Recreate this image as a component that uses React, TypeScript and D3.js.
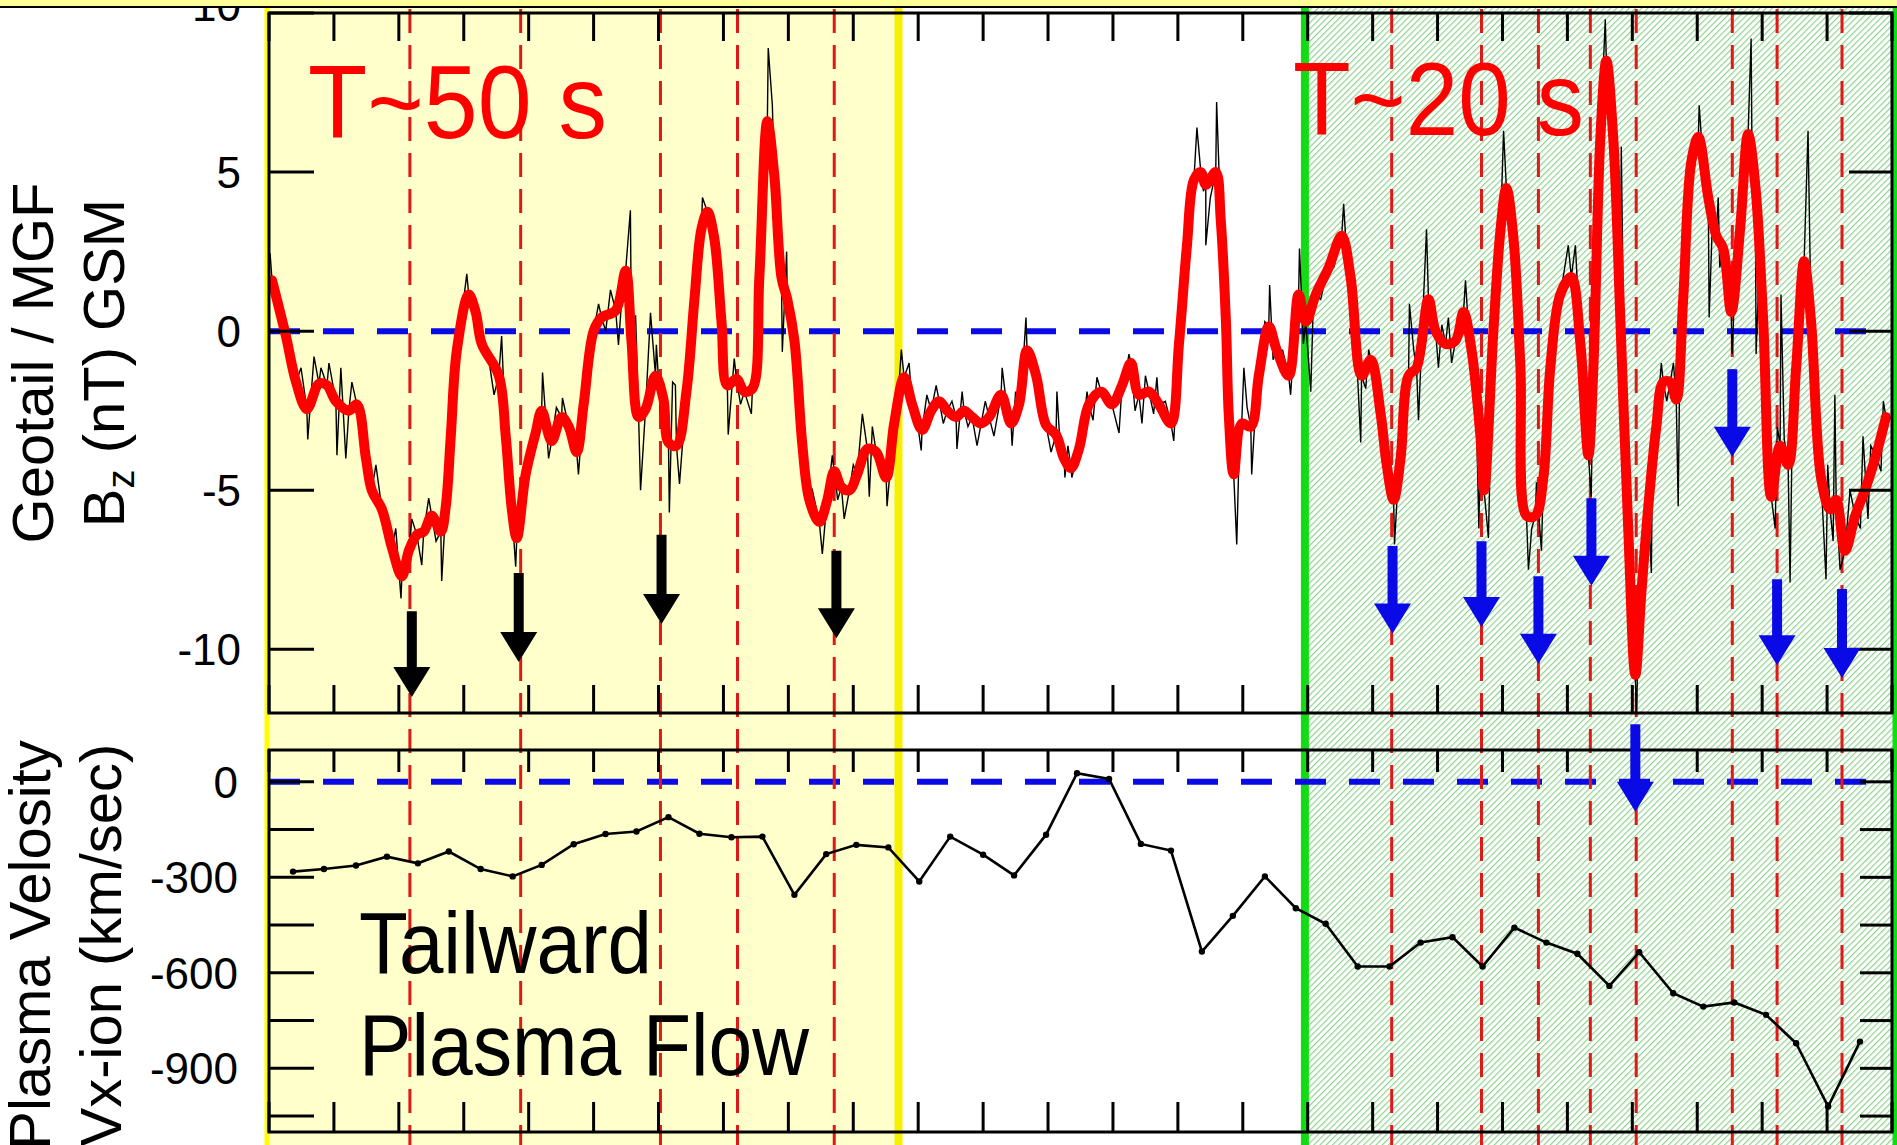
import { useEffect, useRef } from 'react';
import * as d3 from 'd3';

// Time along the axis, seconds from the left edge (ticks every 30 s)
const timeTicks = d3.range(0, 751, 30);

// Geotail Bz, smoothed (red) trace: [s, nT]
const bzSmooth: [number, number][] = [
  [1.4, 1.6], [7.8, -0.15], [12.5, -1.6], [17.5, -2.45], [23.1, -1.65], [26.8, -1.7], [30.9, -2.2], [36.9, -2.5],
  [40.6, -2.3], [44.8, -4.0], [47.5, -5.0], [52.2, -5.6], [56.8, -6.8], [61.4, -7.7], [64.6, -6.9], [68.3, -6.4],
  [71.5, -6.3], [75.2, -5.8], [79.4, -6.3], [81.7, -5.5], [84.0, -3.3], [86.8, -0.6], [92.3, 1.15], [95.5, 0.6],
  [98.3, -0.4], [106.2, -1.4], [109.4, -3.3], [112.2, -5.6], [114.5, -6.5], [118.6, -4.5], [123.2, -3.2], [126.0, -2.5],
  [130.6, -3.45], [135.2, -2.7], [138.5, -3.0], [142.2, -3.8], [145.4, -2.3], [150.0, 0.0], [153.7, 0.43], [160.2, 0.65],
  [164.8, 1.9], [167.5, -0.3], [170.8, -2.7], [174.0, -2.45], [178.6, -1.4], [182.3, -2.15], [184.6, -3.5], [188.3, -3.6],
  [192.9, -1.9], [196.6, 1.0], [199.8, 3.2], [202.6, 3.75], [205.8, 2.9], [209.1, 0.3], [211.8, -1.7], [216.0, -1.5],
  [219.7, -1.9], [223.4, -1.8], [226.6, 1.7], [230.3, 6.6], [233.5, 4.9], [236.8, 1.7], [239.5, 1.0], [242.8, -0.3],
  [246.5, -3.6], [249.7, -5.3], [254.3, -6.0], [258.0, -5.3], [261.2, -4.4], [264.5, -4.9], [268.2, -5.0], [271.8, -4.5],
  [276.5, -3.7], [280.6, -3.8], [285.2, -4.6], [288.9, -2.9], [293.5, -1.45], [297.2, -2.3], [301.8, -3.1], [306.0, -2.5],
  [309.7, -2.2], [313.4, -2.5], [317.5, -2.7], [321.2, -2.5], [324.9, -2.7], [329.1, -2.9], [332.8, -2.7], [338.3, -2.0],
  [342.9, -2.9], [346.6, -2.3], [350.3, -0.6], [354.5, -1.4], [359.1, -2.95], [363.7, -3.25], [367.4, -4.0], [370.6, -4.3],
  [374.3, -3.7], [378.9, -2.3], [384.5, -1.9], [389.5, -2.3], [394.2, -1.7], [398.3, -1.0], [402.0, -2.0], [406.6, -1.9],
  [411.2, -2.3], [416.8, -2.9], [420.5, -0.4], [424.2, 2.7], [427.4, 4.75], [430.6, 5.0], [432.9, 4.6], [437.5, 5.0],
  [439.8, 3.5], [442.2, 0.3], [443.5, -2.6], [445.8, -4.5], [449.5, -2.9], [453.7, -3.0], [457.4, -1.4], [462.0, 0.15],
  [465.7, -0.6], [471.2, -1.4], [475.8, 1.15], [479.1, 0.3], [483.7, 1.15], [489.7, 2.0], [495.7, 3.0], [499.8, 1.7],
  [504.9, -1.4], [509.1, -0.9], [513.7, -2.6], [516.5, -4.2], [519.7, -5.3], [522.9, -4.0], [526.6, -1.4], [530.3, -1.15],
  [535.8, 1.0], [539.1, 0.0], [543.7, -0.4], [548.3, -0.3], [552.0, 0.6], [555.7, -0.6], [559.8, -3.3], [561.5, -5.0],
  [565.8, 0.0], [569.1, 3.2], [571.8, 4.5], [575.1, 2.9], [578.3, -1.15], [581.1, -5.8], [585.2, -5.8], [588.9, -4.6],
  [592.1, -1.15], [596.7, 1.15], [601.8, 1.7], [606.0, -0.4], [609.7, -3.9], [612.0, -1.15], [615.2, 6.05], [618.0, 8.5],
  [621.2, 6.05], [624.5, 0.3], [628.1, -6.2], [631.4, -10.8], [634.2, -8.2], [637.4, -5.5], [641.1, -3.0], [644.3, -1.6],
  [647.5, -1.6], [650.3, -2.15], [653.5, 1.0], [657.2, 5.3], [660.5, 6.1], [665.1, 4.2], [668.8, 3.0], [672.0, 2.6],
  [675.7, 0.6], [679.8, 3.2], [683.5, 6.2], [686.8, 4.6], [690.5, 0.3], [694.2, -5.2], [698.3, -3.6], [702.0, -4.2],
  [705.7, -1.15], [709.4, 2.2], [712.6, 0.3], [717.2, -4.6], [721.4, -5.6], [724.2, -5.3], [728.3, -6.9], [733.0, -5.8],
  [738.0, -4.9], [742.6, -3.9], [747.2, -2.7],
];

// Excursions of the raw (black) Bz trace away from the smoothed curve: [s, nT]
const bzSpikes: [number, number][] = [
  [0.5, 2.45], [3.2, 1.2], [9.6, -0.9], [14.8, -1.15], [17.9, -3.4], [20.8, -0.8], [24.0, -1.15], [27.7, -1.0],
  [31.4, -3.9], [33.2, -1.15], [35.5, -4.0], [38.3, -1.6], [42.5, -2.9], [49.4, -4.2], [54.0, -6.05], [58.6, -6.2],
  [61.0, -8.4], [63.0, -7.2], [66.0, -5.9], [70.6, -7.35], [73.8, -5.25], [77.2, -6.6], [79.8, -7.85], [88.9, 0.4],
  [91.4, 1.8], [97.0, 0.1], [101.5, -0.86], [104.0, -2.0], [107.5, -0.15], [110.8, -4.6], [114.0, -7.4], [116.6, -5.9],
  [121.4, -3.9], [126.4, -1.3], [129.2, -4.0], [132.8, -2.4], [135.6, -2.1], [140.2, -3.5], [143.0, -4.5], [147.7, -1.2],
  [152.3, 0.86], [155.6, 0.0], [157.8, 1.3], [161.5, -0.43], [163.2, 1.2], [167.0, 3.8], [169.4, 0.5], [171.7, -5.0],
  [176.3, 0.58], [179.0, -0.43], [181.0, -2.6], [185.0, -5.7], [186.5, -1.6], [187.8, -1.7], [189.7, -4.8], [194.8, -0.9],
  [200.3, 4.2], [204.0, 3.2], [207.4, 1.5], [212.2, -3.25], [215.0, -0.86], [217.9, -2.3], [222.9, -2.6], [225.0, -0.9],
  [228.6, 4.6], [230.7, 8.9], [232.6, 7.1], [235.0, 3.8], [237.2, -0.65], [239.2, 2.5], [244.6, -1.8], [248.2, -4.7],
  [251.1, -5.0], [255.7, -7.0], [257.0, -6.0], [260.3, -3.9], [262.8, -5.3], [265.8, -5.9], [270.0, -4.2], [274.2, -2.6],
  [277.4, -5.2], [278.8, -3.0], [283.0, -4.2], [285.6, -5.5], [290.7, -2.1], [292.2, -0.58], [295.8, -1.0], [299.5, -2.8],
  [301.4, -3.75], [304.0, -2.0], [308.3, -1.7], [311.6, -2.9], [315.6, -2.2], [317.9, -3.7], [320.3, -1.9], [323.0, -3.0],
  [327.2, -3.6], [331.0, -2.2], [335.0, -3.3], [338.8, -1.15], [341.0, -2.4], [343.4, -3.6], [345.0, -1.9], [348.5, -1.0],
  [349.8, 0.43], [352.4, -1.0], [356.8, -2.3], [361.4, -3.8], [364.1, -1.9], [365.6, -3.6], [367.8, -4.6], [369.2, -3.6],
  [371.0, -4.6], [376.2, -3.1], [378.0, -1.9], [380.8, -2.8], [382.6, -1.45], [387.0, -2.0], [392.8, -3.2], [396.0, -1.3],
  [397.4, -0.72], [400.2, -2.5], [403.4, -2.9], [405.0, -1.4], [408.8, -2.6], [410.3, -1.45], [414.2, -2.2], [418.1, -3.45],
  [422.0, 1.2], [426.0, 3.9], [428.8, 6.4], [431.8, 4.4], [432.9, 2.7], [435.0, 4.2], [437.9, 7.2], [441.0, 2.0],
  [444.5, -3.8], [447.2, -6.7], [448.2, -4.0], [450.5, -1.15], [452.0, -2.4], [454.1, -4.5], [456.0, -2.3], [460.2, 0.3],
  [462.4, 1.45], [464.0, -0.9], [468.4, -0.6], [472.1, -2.0], [474.0, 0.0], [476.2, 2.6], [478.0, -0.4], [481.4, -1.9],
  [482.6, 0.9], [486.0, 1.0], [488.3, 1.7], [492.0, 2.0], [496.6, 4.0], [498.0, 2.4], [502.0, 0.1], [504.5, -3.5],
  [506.8, -1.8], [508.2, -0.58], [511.4, -2.2], [515.0, -3.8], [518.0, -4.6], [520.1, -6.7], [521.5, -5.0], [524.8, -3.4],
  [527.0, 0.86], [529.0, -0.6], [531.2, -2.8], [533.0, 0.2], [534.9, 3.2], [537.6, 0.4], [540.4, -1.15], [542.0, 0.2],
  [545.0, 0.43], [546.5, -1.0], [550.0, 0.1], [552.9, 1.6], [554.4, 0.0], [557.7, -2.0], [559.1, -6.2], [560.5, -4.4],
  [563.5, -6.5], [565.0, -2.0], [567.4, 2.0], [570.5, 6.3], [573.4, 3.8], [576.6, 1.0], [579.8, -3.8], [582.0, -7.5],
  [583.5, -6.2], [585.7, -4.75], [588.0, -6.9], [590.5, -3.0], [594.4, 0.4], [598.3, 1.8], [600.4, 2.7], [603.7, 2.7],
  [607.8, -2.5], [611.0, -5.2], [613.6, 2.8], [617.5, 9.8], [619.6, 7.4], [622.8, 4.0], [624.9, 5.8], [626.4, -2.5],
  [629.8, -8.9], [631.8, -12.1], [633.0, -9.6], [635.8, -7.0], [638.8, -7.6], [639.3, -4.0], [643.4, -1.0], [645.9, -2.2],
  [649.0, -1.0], [651.2, -5.5], [652.0, -0.6], [655.3, 3.6], [658.8, 5.2], [660.9, 7.1], [663.0, 5.0], [665.5, 0.43],
  [667.0, 3.4], [669.7, 4.2], [670.4, 2.0], [674.0, 1.7], [676.1, -0.72], [677.8, 2.0], [681.6, 4.6], [684.9, 9.2],
  [685.3, 5.6], [687.2, -0.72], [688.6, 2.0], [692.4, -3.0], [696.0, -6.2], [697.0, -3.0], [698.7, 1.15], [700.2, -3.4],
  [702.9, -7.9], [704.0, -2.6], [707.5, 0.8], [711.2, 6.3], [714.9, -2.0], [719.5, -7.8], [720.3, -4.2], [722.8, -6.6],
  [723.6, -2.0], [726.0, -7.5], [730.6, -5.0], [735.4, -6.2], [736.6, -3.3], [738.9, -5.9], [740.2, -3.6], [744.9, -4.4],
  [746.0, -2.2], [747.6, -3.1],
];

// Ion velocity Vx (km/s): [s, km/s]
const vxIon: [number, number][] = [
  [11.1, -282], [25.4, -274], [40.2, -263], [54.5, -235], [68.8, -256], [83.1, -219], [97.8, -274], [112.6, -297],
  [126.0, -261], [140.8, -196], [155.5, -164], [169.8, -156], [184.6, -111], [198.9, -163], [213.7, -174], [228.0, -172],
  [242.8, -355], [257.5, -227], [271.4, -198], [286.2, -206], [300.5, -313], [314.8, -172], [330.0, -229], [344.3, -294],
  [359.1, -166], [373.4, 27], [388.2, 9], [402.9, -195], [416.8, -216], [431.1, -533], [445.4, -421], [460.2, -297],
  [474.5, -397], [488.3, -446], [503.1, -580], [517.8, -580], [532.2, -505], [546.9, -488], [560.8, -580], [575.5, -458],
  [590.3, -505], [604.6, -540], [619.4, -641], [633.2, -535], [648.9, -664], [662.8, -706], [677.1, -693], [691.8, -732],
  [705.7, -821], [720.5, -1020], [735.2, -816],
];

// Vertical dashed markers (s)
const markerTimes = [65.1, 116.3, 180.9, 216.5, 261.2, 518.8, 560.3, 586.6, 610.6, 631.8, 676.2, 696.9, 726.9];

// Arrows: time, start and end in nT
const blackArrows = [
  { t: 66.0, from: -8.8, to: -11.5 },
  { t: 115.4, from: -7.6, to: -10.4 },
  { t: 181.4, from: -6.4, to: -9.2 },
  { t: 262.2, from: -6.9, to: -9.65 },
];
const blueArrows = [
  { t: 519.2, from: -6.75, to: -9.5 },
  { t: 560.3, from: -6.6, to: -9.3 },
  { t: 586.6, from: -7.7, to: -10.45 },
  { t: 611.1, from: -5.25, to: -8.0 },
  { t: 631.4, from: -12.35, to: -15.1 },
  { t: 676.2, from: -1.2, to: -3.95 },
  { t: 696.9, from: -7.8, to: -10.5 },
  { t: 726.9, from: -8.1, to: -10.9 },
];

// Shaded intervals (s)
const yellowSpan = [0, 290.9];
const greenSpan = [478.7, 750];

const bzTicks = [-10, -5, 0, 5, 10];
const vxTicks = [0, -300, -600, -900];
const vxMinor = [0, -150, -300, -450, -600, -750, -900, -1050];

const W = 1897;
const H = 1145;
const FONT = "'Liberation Sans', Arial, Helvetica, sans-serif";

export default function App() {
  const svgRef = useRef<SVGSVGElement>(null);

  useEffect(() => {
    if (!svgRef.current) return;
    const svg = d3.select(svgRef.current);
    svg.selectAll('*').remove();

    const x = d3.scaleLinear().domain([0, 750]).range([269, 1892]);
    const yB = d3.scaleLinear().domain([-12, 10]).range([713, 13]);
    const yV = d3.scaleLinear().domain([-1100, 100]).range([1132, 750]);

    const defs = svg.append('defs');
    const pat = defs.append('pattern')
      .attr('id', 'hatch')
      .attr('patternUnits', 'userSpaceOnUse')
      .attr('width', 4.4)
      .attr('height', 10)
      .attr('patternTransform', 'rotate(45)');
    pat.append('rect').attr('width', 4.4).attr('height', 10).attr('fill', '#ffffff');
    pat.append('rect').attr('width', 1.2).attr('height', 10).attr('fill', '#8fd38f');

    defs.append('clipPath').attr('id', 'clipTop')
      .append('rect')
      .attr('x', x(0)).attr('y', yB(10))
      .attr('width', x(750) - x(0)).attr('height', yB(-12) - yB(10));

    // Backgrounds
    svg.append('rect').attr('width', W).attr('height', H).attr('fill', '#fff');

    svg.append('rect')
      .attr('x', x(yellowSpan[0])).attr('y', 8)
      .attr('width', x(yellowSpan[1]) - x(yellowSpan[0])).attr('height', H - 8)
      .attr('fill', '#ffffcc');
    svg.append('rect')
      .attr('x', x(greenSpan[0])).attr('y', 8)
      .attr('width', W - x(greenSpan[0])).attr('height', H - 8)
      .attr('fill', 'url(#hatch)');

    // Region borders
    const vline = (xx: number, color: string, w: number) =>
      svg.append('line').attr('x1', xx).attr('x2', xx).attr('y1', 8).attr('y2', H)
        .attr('stroke', color).attr('stroke-width', w);
    vline(x(0) - 2, '#ffff00', 5);
    vline(x(yellowSpan[1]), '#f6f000', 8);
    vline(x(greenSpan[0]), '#14dc14', 8);
    vline(W - 2, '#14dc14', 5);

    // Zero reference lines
    svg.append('line')
      .attr('x1', x(0)).attr('x2', 1868).attr('y1', yB(0)).attr('y2', yB(0))
      .attr('stroke', '#0a0ae6').attr('stroke-width', 6).attr('stroke-dasharray', '31 23');
    svg.append('line')
      .attr('x1', x(0)).attr('x2', 1876).attr('y1', yV(0)).attr('y2', yV(0))
      .attr('stroke', '#0a0ae6').attr('stroke-width', 6).attr('stroke-dasharray', '31 23');

    // Marker lines
    svg.append('g').selectAll('line').data(markerTimes).join('line')
      .attr('x1', d => x(d)).attr('x2', d => x(d))
      .attr('y1', 9).attr('y2', H)
      .attr('stroke', '#e01818').attr('stroke-width', 3).attr('stroke-dasharray', '24 12');

    // Bz traces
    const lineB = d3.line<[number, number]>().x(d => x(d[0])).y(d => yB(d[1]));
    const raw = [...bzSmooth, ...bzSpikes].sort((a, b) => a[0] - b[0]);
    const gTop = svg.append('g').attr('clip-path', 'url(#clipTop)');
    gTop.append('path').datum(raw)
      .attr('d', lineB)
      .attr('fill', 'none').attr('stroke', '#000').attr('stroke-width', 1.4);
    gTop.append('path').datum(bzSmooth)
      .attr('d', lineB.curve(d3.curveCatmullRom.alpha(0.5)))
      .attr('fill', 'none').attr('stroke', '#ff0000').attr('stroke-width', 10)
      .attr('stroke-linejoin', 'round').attr('stroke-linecap', 'round');

    // Velocity
    const lineV = d3.line<[number, number]>().x(d => x(d[0])).y(d => yV(d[1]));
    svg.append('path').datum(vxIon)
      .attr('d', lineV)
      .attr('fill', 'none').attr('stroke', '#000').attr('stroke-width', 2.6);
    svg.append('g').selectAll('circle').data(vxIon).join('circle')
      .attr('cx', d => x(d[0])).attr('cy', d => yV(d[1])).attr('r', 3.2).attr('fill', '#000');

    // Frames and ticks
    const frame = (y0: number, y1: number) =>
      svg.append('rect').attr('x', x(0)).attr('y', y0).attr('width', x(750) - x(0)).attr('height', y1 - y0)
        .attr('fill', 'none').attr('stroke', '#000').attr('stroke-width', 3);
    frame(yB(10), yB(-12));
    frame(yV(100), yV(-1100));

    const ticks = svg.append('g').attr('stroke', '#000').attr('stroke-width', 3);
    const tickPairs: [number, number, number][] = [
      [yB(10), 1, 28], [yB(-12), -1, 28], [yV(100), 1, 22], [yV(-1100), -1, 30],
    ];
    tickPairs.forEach(([yy, dir, len]) => {
      ticks.append('g').selectAll('line').data(timeTicks).join('line')
        .attr('x1', d => x(d)).attr('x2', d => x(d))
        .attr('y1', yy).attr('y2', yy + dir * len);
    });
    ticks.append('g').selectAll('line').data(bzTicks).join('line')
      .attr('x1', x(0)).attr('x2', x(0) + 45).attr('y1', d => yB(d)).attr('y2', d => yB(d));
    ticks.append('g').selectAll('line').data(bzTicks).join('line')
      .attr('x1', x(750) - 43).attr('x2', x(750)).attr('y1', d => yB(d)).attr('y2', d => yB(d));
    ticks.append('g').selectAll('line').data(vxMinor).join('line')
      .attr('x1', x(0)).attr('x2', x(0) + 45).attr('y1', d => yV(d)).attr('y2', d => yV(d));
    ticks.append('g').selectAll('line').data(vxMinor).join('line')
      .attr('x1', x(750) - 32).attr('x2', x(750)).attr('y1', d => yV(d)).attr('y2', d => yV(d));

    // Tick labels (the top "10" sits partly under the strip above the panel)
    const labels = svg.append('g').attr('font-family', FONT).attr('font-size', 44)
      .attr('text-anchor', 'end').attr('fill', '#000');
    labels.selectAll('text.bz').data(bzTicks).join('text')
      .attr('x', 241).attr('y', d => (d === 10 ? yB(d) - 8 : yB(d))).attr('dy', '0.36em').text(d => d);
    labels.selectAll('text.vx').data(vxTicks).join('text')
      .attr('x', 238).attr('y', d => yV(d)).attr('dy', '0.36em').text(d => d);

    // Strip left over from the panel above
    svg.append('rect').attr('x', 0).attr('y', 0).attr('width', W).attr('height', 6).attr('fill', '#ffff99');
    svg.append('line').attr('x1', 0).attr('x2', W).attr('y1', 7).attr('y2', 7)
      .attr('stroke', '#000').attr('stroke-width', 2);

    // Arrows
    const arrow = (t: number, from: number, to: number, color: string) => {
      const cx = x(t);
      const y0 = yB(from);
      const y1 = yB(to);
      const hl = 30, hw = 18.5, sw = 5;
      svg.append('path')
        .attr('d', `M${cx - sw},${y0}L${cx + sw},${y0}L${cx + sw},${y1 - hl}L${cx + hw},${y1 - hl}L${cx},${y1}L${cx - hw},${y1 - hl}L${cx - sw},${y1 - hl}Z`)
        .attr('fill', color);
    };
    blackArrows.forEach(a => arrow(a.t, a.from, a.to, '#000'));
    blueArrows.forEach(a => arrow(a.t, a.from, a.to, '#0a0ae6'));

    // Annotations
    const ann = svg.append('g').attr('font-family', FONT);
    ann.append('text').attr('x', 308).attr('y', 138).attr('font-size', 104).attr('fill', '#ff0000')
      .attr('textLength', 299).attr('lengthAdjust', 'spacingAndGlyphs').text('T~50 s');
    ann.append('text').attr('x', 1293).attr('y', 135).attr('font-size', 104).attr('fill', '#ff0000')
      .attr('textLength', 291).attr('lengthAdjust', 'spacingAndGlyphs').text('T~20 s');
    ann.append('text').attr('x', 359).attr('y', 973).attr('font-size', 88).attr('fill', '#000')
      .attr('textLength', 293).attr('lengthAdjust', 'spacingAndGlyphs').text('Tailward');
    ann.append('text').attr('x', 359).attr('y', 1075).attr('font-size', 88).attr('fill', '#000')
      .attr('textLength', 450).attr('lengthAdjust', 'spacingAndGlyphs').text('Plasma Flow');

    // Axis titles
    const title = (tx: number, ty: number) =>
      svg.append('text').attr('transform', `translate(${tx},${ty}) rotate(-90)`)
        .attr('font-family', FONT).attr('font-size', 58).attr('text-anchor', 'middle').attr('fill', '#000');
    const topMid = (yB(10) + yB(-12)) / 2;
    const botMid = 945;
    title(53, topMid).text('Geotail / MGF');
    const t2 = title(124, topMid);
    t2.append('tspan').text('B');
    t2.append('tspan').attr('font-size', 38).attr('dy', 10).text('z');
    t2.append('tspan').attr('dy', -10).text(' (nT) GSM');
    title(50, botMid).text('Plasma Velosity');
    title(121, botMid).text('Vx-ion (km/sec)');
  }, []);

  return (
    <svg
      ref={svgRef}
      width={W}
      height={H}
      style={{ position: 'absolute', left: 0, top: 0, display: 'block' }}
    />
  );
}
